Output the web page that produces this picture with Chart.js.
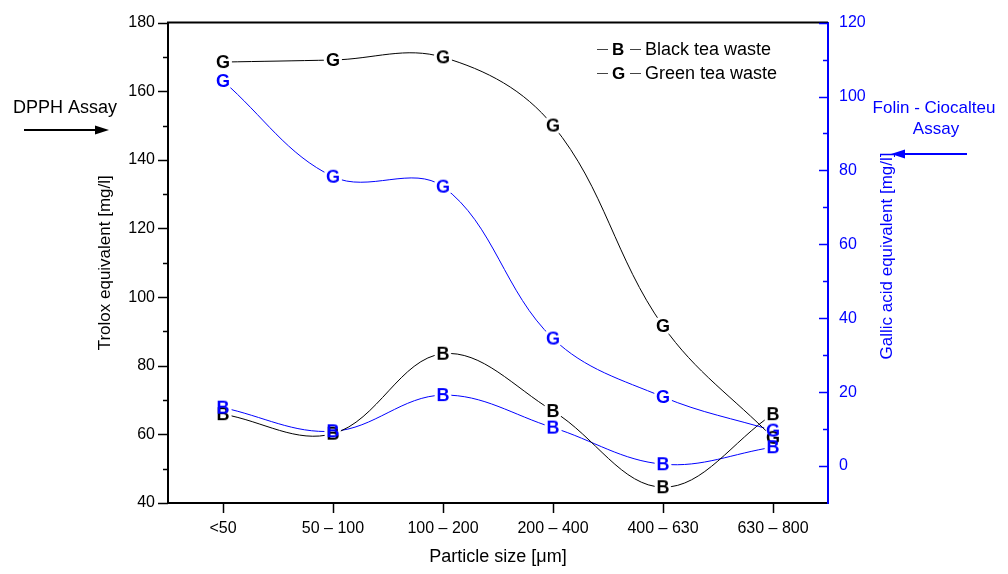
<!DOCTYPE html>
<html>
<head>
<meta charset="utf-8">
<script src="https://cdn.jsdelivr.net/npm/chart.js@4.4.1/dist/chart.umd.min.js"></script>
<style>
  body { margin: 0; background: #fff; }
  #wrap { width: 1008px; height: 574px; }
</style>
</head>
<body>
<div id="wrap"><canvas id="chart" width="1008" height="574"></canvas></div>
<script>
// particle size classes
const categories = ['<50', '50 – 100', '100 – 200', '200 – 400', '400 – 630', '630 – 800'];

// DPPH assay, Trolox equivalent [mg/l] (left axis)
const dpphGreen = [168.5, 169.1, 169.9, 150.0, 91.6, 59.0];
const dpphBlack = [65.9, 60.2, 83.5, 66.8, 44.6, 65.9];

// Folin-Ciocalteu assay, gallic acid equivalent [mg/l] (right axis)
const folinGreen = [104.2, 78.3, 75.6, 34.5, 18.7, 9.6];
const folinBlack = [15.8, 9.4, 19.2, 10.4, 0.5, 5.1];

const leftTicks = [40, 60, 80, 100, 120, 140, 160, 180];
const rightTicks = [0, 20, 40, 60, 80, 100, 120];

const BLUE = '#0000ff';
const FONT = '"Liberation Sans", Arial, sans-serif';
Chart.defaults.font.family = FONT;

// letter used as point symbol; halo=true gives the white gap where the line stops
function letterSymbol(letter, color, halo) {
  const c = document.createElement('canvas');
  c.width = 26; c.height = 26;
  const ctx = c.getContext('2d');
  ctx.font = 'bold 18px ' + FONT;
  ctx.textAlign = 'center';
  ctx.textBaseline = 'middle';
  if (halo) {
    ctx.lineJoin = 'round';
    ctx.strokeStyle = '#fff';
    ctx.fillStyle = '#fff';
    ctx.lineWidth = 6;
    ctx.strokeText(letter, 13, 14);
    ctx.fillText(letter, 13, 14);
  } else {
    ctx.fillStyle = color;
    ctx.fillText(letter, 13, 14);
  }
  return c;
}

function curve(data, letter, color, axis) {
  return {
    data: data,
    yAxisID: axis,
    borderColor: color,
    borderWidth: 1,
    tension: 0.37,
    pointStyle: letterSymbol(letter, color, true),
    pointRadius: 10,
    pointHoverRadius: 10,
    fill: false
  };
}

function letters(data, letter, color, axis) {
  return {
    data: data,
    yAxisID: axis,
    showLine: false,
    pointStyle: letterSymbol(letter, color, false),
    pointRadius: 10,
    pointHoverRadius: 10
  };
}

function arrow(ctx, x1, x2, y, color) {
  const dir = x2 > x1 ? 1 : -1;
  ctx.strokeStyle = color;
  ctx.fillStyle = color;
  ctx.lineWidth = 2;
  ctx.beginPath();
  ctx.moveTo(x1, y);
  ctx.lineTo(x2 - dir * 8, y);
  ctx.stroke();
  ctx.beginPath();
  ctx.moveTo(x2, y);
  ctx.lineTo(x2 - dir * 14, y - 4.5);
  ctx.lineTo(x2 - dir * 14, y + 4.5);
  ctx.closePath();
  ctx.fill();
}

const decorations = {
  id: 'decorations',
  afterDraw(chart) {
    const ctx = chart.ctx;
    const area = chart.chartArea;
    const x = chart.scales.x, y = chart.scales.y, y2 = chart.scales.y2;
    ctx.save();

    // top frame line
    ctx.strokeStyle = '#000';
    ctx.lineWidth = 2;
    ctx.beginPath();
    ctx.moveTo(area.left - 1, area.top);
    ctx.lineTo(area.right, area.top);
    ctx.stroke();

    // left ticks (outward, with minors)
    ctx.lineWidth = 1.5;
    for (let v = 40; v <= 180; v += 10) {
      const py = Math.round(y.getPixelForValue(v)) + 0.5;
      const len = v % 20 === 0 ? 10 : 5;
      ctx.beginPath();
      ctx.moveTo(area.left - len, py);
      ctx.lineTo(area.left, py);
      ctx.stroke();
    }
    // bottom ticks
    categories.forEach((c, i) => {
      const px = Math.round(x.getPixelForValue(i)) + 0.5;
      ctx.beginPath();
      ctx.moveTo(px, area.bottom);
      ctx.lineTo(px, area.bottom + 10);
      ctx.stroke();
    });
    // right ticks (inward, blue)
    ctx.strokeStyle = BLUE;
    for (let v = 0; v <= 120; v += 10) {
      const py = Math.round(y2.getPixelForValue(v)) + 0.5;
      const len = v % 20 === 0 ? 9 : 5;
      ctx.beginPath();
      ctx.moveTo(area.right - len, py);
      ctx.lineTo(area.right, py);
      ctx.stroke();
    }

    // right axis title, reading upwards like the left one
    ctx.save();
    ctx.translate(887, 256);
    ctx.rotate(-Math.PI / 2);
    ctx.fillStyle = BLUE;
    ctx.font = '17px ' + FONT;
    ctx.textAlign = 'center';
    ctx.textBaseline = 'middle';
    ctx.fillText('Gallic acid equivalent [mg/l]', 0, 0);
    ctx.restore();

    // assay annotations
    ctx.font = '18px ' + FONT;
    ctx.textBaseline = 'middle';
    ctx.fillStyle = '#000';
    ctx.textAlign = 'left';
    ctx.fillText('DPPH Assay', 13, 108);
    arrow(ctx, 24, 109, 130, '#000');

    ctx.font = '17px ' + FONT;
    ctx.fillStyle = BLUE;
    ctx.textAlign = 'center';
    ctx.fillText('Folin - Ciocalteu', 934, 108);
    ctx.fillText('Assay', 936, 129);
    arrow(ctx, 967, 891, 154, BLUE);

    // legend
    const rows = [['B', 'Black tea waste', 49], ['G', 'Green tea waste', 73]];
    rows.forEach(r => {
      ctx.strokeStyle = '#444';
      ctx.lineWidth = 1;
      ctx.beginPath();
      ctx.moveTo(597, r[2] + 0.5); ctx.lineTo(608, r[2] + 0.5);
      ctx.moveTo(630, r[2] + 0.5); ctx.lineTo(641, r[2] + 0.5);
      ctx.stroke();
      ctx.fillStyle = '#000';
      ctx.textAlign = 'left';
      ctx.font = 'bold 17px ' + FONT;
      ctx.fillText(r[0], 612, r[2] + 1);
      ctx.font = '18px ' + FONT;
      ctx.fillText(r[1], 645, r[2] + 1);
    });
    ctx.restore();
  }
};

new Chart(document.getElementById('chart'), {
  type: 'line',
  data: {
    labels: categories,
    datasets: [
      // letters first so they sit on top of every curve
      letters(folinBlack, 'B', BLUE, 'y2'),
      letters(folinGreen, 'G', BLUE, 'y2'),
      letters(dpphBlack, 'B', '#000', 'y'),
      letters(dpphGreen, 'G', '#000', 'y'),
      curve(dpphGreen, 'G', '#000', 'y'),
      curve(folinGreen, 'G', BLUE, 'y2'),
      curve(dpphBlack, 'B', '#000', 'y'),
      curve(folinBlack, 'B', BLUE, 'y2')
    ]
  },
  options: {
    responsive: false,
    animation: false,
    layout: { padding: { left: 95, right: 0, top: 17, bottom: 0 } },
    plugins: { legend: { display: false }, tooltip: { enabled: false } },
    scales: {
      x: {
        type: 'category',
        offset: true,
        grid: { display: false, drawTicks: false },
        border: { display: true, color: '#000', width: 2 },
        ticks: { color: '#000', font: { size: 16 }, padding: 16, maxRotation: 0 },
        title: { display: true, text: 'Particle size [μm]', color: '#000', font: { size: 18 }, padding: { top: 0, bottom: 6 } },
        afterFit(s) { s.height = 71; }
      },
      y: {
        position: 'left',
        min: 40,
        max: 180,
        afterBuildTicks(s) { s.ticks = leftTicks.map(v => ({ value: v })); },
        grid: { display: false, drawTicks: false },
        border: { display: true, color: '#000', width: 2 },
        ticks: { color: '#000', font: { size: 16 }, padding: 13 },
        title: { display: true, text: 'Trolox equivalent [mg/l]', color: '#000', font: { size: 17 }, padding: 0 },
        afterFit(s) { s.width = 73; }
      },
      y2: {
        position: 'right',
        min: -10,
        max: 120,
        afterBuildTicks(s) { s.ticks = rightTicks.map(v => ({ value: v })); },
        grid: { display: false, drawTicks: false, drawOnChartArea: false },
        border: { display: true, color: BLUE, width: 2 },
        ticks: { color: BLUE, font: { size: 16 }, padding: 11 },
        afterFit(s) { s.width = 180; }
      }
    }
  },
  plugins: [decorations]
});
</script>
</body>
</html>
